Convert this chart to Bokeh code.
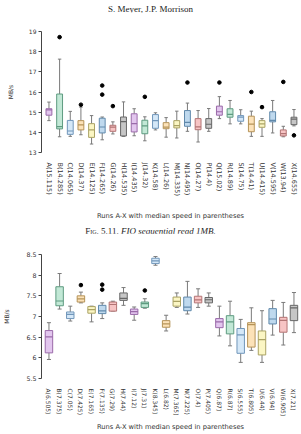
import math

from bokeh.embed import file_html
from bokeh.layouts import column
from bokeh.models import ColumnDataSource, Div, FixedTicker, Range1d
from bokeh.plotting import figure
from bokeh.resources import INLINE

runs = list("ABCDEFGHIJKLMNOPQRSTUVWX")

# FIO sequential read 1MB (MB/s): box statistics per run
seq_median = [15.115, 14.285, 14.065, 14.37, 14.125, 14.265, 14.26, 14.535, 14.435, 14.32, 14.58, 14.26,
              14.335, 14.495, 14.27, 14.4, 15.02, 14.89, 14.75, 14.41, 14.415, 14.595, 13.94, 14.655]
seq_q1 = [14.85, 14.17, 13.9, 14.12, 13.75, 13.97, 14.05, 13.82, 14.02, 13.93, 14.2, 14.18,
          14.22, 14.3, 14.13, 14.2, 14.85, 14.75, 14.55, 14.03, 14.25, 14.52, 13.82, 14.38]
seq_q3 = [15.17, 15.9, 14.59, 14.58, 14.43, 14.7, 14.35, 14.76, 14.92, 14.6, 14.88, 14.48,
          14.58, 15.08, 14.68, 14.68, 15.3, 15.17, 14.83, 14.8, 14.58, 15.02, 14.12, 14.75]
seq_lo = [14.58, 13.78, 13.8, 13.88, 13.42, 13.63, 13.92, 13.8, 13.83, 13.58, 14.12, 13.76,
          13.72, 14.05, 13.52, 14.05, 14.68, 14.42, 14.42, 13.8, 13.8, 13.97, 13.78, 14.32]
seq_hi = [15.5, 17.63, 15.04, 15.25, 14.83, 14.76, 14.52, 15.51, 15.17, 14.77, 14.97, 14.73,
          15.05, 15.45, 15.08, 15.18, 15.77, 15.58, 15.12, 15.05, 14.68, 15.58, 14.3, 15.13]
seq_out_run = ["B", "D", "F", "F", "G", "J", "N", "Q", "T", "U", "W", "X"]
seq_out_val = [18.72, 15.37, 16.32, 15.87, 15.3, 15.76, 16.47, 16.47, 16.0, 15.25, 16.5, 13.85]
seq_yticks = [13, 14, 15, 16, 17, 18, 19]

# second benchmark (MB/s): box statistics per run
rnd_median = [6.505, 7.375, 7.05, 7.425, 7.165, 7.135, 7.29, 7.44, 7.12, 7.31, 8.345, 6.82,
              7.365, 7.225, 7.4, 7.405, 6.87, 6.87, 6.555, 6.805, 6.44, 6.94, 6.905, 7.21]
rnd_q1 = [6.12, 7.26, 6.95, 7.35, 7.08, 7.07, 7.13, 7.39, 7.05, 7.22, 8.28, 6.74,
          7.25, 7.14, 7.33, 7.33, 6.73, 6.58, 6.11, 6.26, 6.07, 6.82, 6.62, 6.9]
rnd_q3 = [6.66, 7.72, 7.11, 7.5, 7.24, 7.27, 7.35, 7.57, 7.18, 7.35, 8.41, 6.9,
          7.47, 7.47, 7.49, 7.46, 6.95, 7.02, 6.71, 6.85, 6.65, 7.19, 6.98, 7.27]
rnd_lo = [5.96, 7.18, 6.89, 7.33, 6.87, 6.95, 7.13, 7.27, 6.91, 7.2, 8.24, 6.65,
          7.22, 7.06, 7.22, 7.25, 6.53, 6.29, 5.89, 6.18, 5.89, 6.55, 6.31, 6.61]
rnd_hi = [6.85, 8.04, 7.25, 7.59, 7.25, 7.33, 7.37, 7.7, 7.23, 7.43, 8.45, 7.03,
          7.57, 7.85, 7.67, 7.57, 7.25, 7.37, 6.93, 7.21, 7.14, 7.39, 7.34, 7.58]
rnd_out_run = ["D", "F", "F", "J"]
rnd_out_val = [7.76, 7.77, 7.65, 7.63]
rnd_yticks = [5.5, 6, 6.5, 7, 7.5, 8, 8.5]

# pastel fill / darker edge cycle used for the boxes
FILLS = ["#e2c6ee", "#c2e8d6", "#d5e8f8", "#fce2b8", "#fbf6c4", "#bfd9ee", "#f7c4c4", "#c6c6c6"]
EDGES = ["#9a6aa9", "#5e9b80", "#7096ba", "#b59358", "#aaa264", "#6089ab", "#b27474", "#666666"]
WHISKER = "#7a7a7a"
SANS = "DejaVu Sans"


def box_figure(median, q1, q3, lo, hi, out_run, out_val, y_range, yticks, height,
               border_top, border_bottom, border_left, box_w, cap_w, label_size,
               xlabel_standoff, ylabel_standoff, tick_size):
    n = len(runs)
    xs = list(range(1, n + 1))
    src = ColumnDataSource(dict(
        x=xs,
        median=median, q1=q1, q3=q3, lo=lo, hi=hi,
        m0=[x - box_w / 2 for x in xs], m1=[x + box_w / 2 for x in xs],
        c0=[x - cap_w / 2 for x in xs], c1=[x + cap_w / 2 for x in xs],
        fill=[FILLS[i % len(FILLS)] for i in range(n)],
        edge=[EDGES[i % len(EDGES)] for i in range(n)],
    ))
    p = figure(width=301, height=height, x_range=Range1d(0.3, 24.52), y_range=Range1d(*y_range),
               output_backend="svg", toolbar_location=None,
               min_border_left=border_left, min_border_right=2,
               min_border_top=border_top, min_border_bottom=border_bottom)
    p.outline_line_color = None
    p.xgrid.visible = False
    p.ygrid.visible = False

    # whiskers and caps
    p.segment("x", "q3", "x", "hi", source=src, line_color=WHISKER, line_width=1)
    p.segment("x", "lo", "x", "q1", source=src, line_color=WHISKER, line_width=1)
    p.segment("c0", "hi", "c1", "hi", source=src, line_color=WHISKER, line_width=1)
    p.segment("c0", "lo", "c1", "lo", source=src, line_color=WHISKER, line_width=1)
    # boxes and medians
    p.vbar(x="x", width=box_w, bottom="q1", top="q3", source=src,
           fill_color="fill", line_color="edge", line_width=1)
    p.segment("m0", "median", "m1", "median", source=src, line_color="edge", line_width=1.2)
    # outliers
    ox = [runs.index(r) + 1 for r in out_run]
    p.scatter(ox, out_val, size=3.6, color="black")

    labels = {x: f"{r}({m})" for x, r, m in zip(xs, runs, median)}
    p.xaxis.ticker = FixedTicker(ticks=xs)
    p.xaxis.major_label_overrides = labels
    p.xaxis.major_label_orientation = -math.pi / 2
    p.xaxis.axis_line_color = None
    p.xaxis.major_tick_line_color = None
    p.xaxis.minor_tick_line_color = None
    p.xaxis.major_label_standoff = 4
    p.xaxis.major_label_text_font = SANS
    p.xaxis.major_label_text_font_size = f"{label_size}px"
    p.xaxis.major_label_text_color = "#333333"
    p.xaxis.axis_label = "Runs A-X with median speed in parentheses"
    p.xaxis.axis_label_text_font = SANS
    p.xaxis.axis_label_text_font_style = "normal"
    p.xaxis.axis_label_text_font_size = "6.7px"
    p.xaxis.axis_label_text_color = "#333333"
    p.xaxis.axis_label_standoff = xlabel_standoff

    p.yaxis.ticker = FixedTicker(ticks=yticks)
    p.yaxis.major_label_overrides = {t: f"{t:g}" for t in yticks}
    p.yaxis.minor_tick_line_color = None
    p.yaxis.major_tick_in = 0
    p.yaxis.major_tick_out = 3
    p.yaxis.axis_line_color = "#444444"
    p.yaxis.major_tick_line_color = "#444444"
    p.yaxis.major_label_standoff = 2
    p.yaxis.major_label_text_font = SANS
    p.yaxis.major_label_text_font_size = f"{tick_size}px"
    p.yaxis.major_label_text_color = "#333333"
    p.yaxis.axis_label = "MB/s"
    p.yaxis.axis_label_text_font = SANS
    p.yaxis.axis_label_text_font_style = "normal"
    p.yaxis.axis_label_text_font_size = "6px"
    p.yaxis.axis_label_text_color = "#333333"
    p.yaxis.axis_label_standoff = ylabel_standoff
    return p


header = Div(text='<div style="width:301px;text-align:center;font-family:\'Liberation Serif\';'
                  'font-size:9px;line-height:12px;color:#222;">S. Meyer, J.P. Morrison</div>',
             width=301, height=12, margin=0)

seq = box_figure(seq_median, seq_q1, seq_q3, seq_lo, seq_hi, seq_out_run, seq_out_val,
                 (13, 19), seq_yticks, height=210, border_top=19, border_bottom=70, border_left=35,
                 box_w=0.55, cap_w=0.32, label_size=6.5, xlabel_standoff=13, ylabel_standoff=12,
                 tick_size=6)

caption = Div(text='<div style="width:301px;text-align:center;font-family:\'Liberation Serif\';'
                   'font-size:9px;line-height:11px;color:#222;">'
                   '<span style="font-variant:small-caps;">Fig. 5.11.</span> '
                   '<i>FIO sequential read 1MB.</i></div>',
              width=301, height=11, margin=0)

rnd = box_figure(rnd_median, rnd_q1, rnd_q3, rnd_lo, rnd_hi, rnd_out_run, rnd_out_val,
                 (5.5, 8.5), rnd_yticks, height=201, border_top=21, border_bottom=55, border_left=39,
                 box_w=0.7, cap_w=0.38, label_size=6, xlabel_standoff=4, ylabel_standoff=13,
                 tick_size=6.3)

page = column(header, seq, caption, rnd, spacing=0)
open("out.html", "w").write(file_html(page, INLINE))
